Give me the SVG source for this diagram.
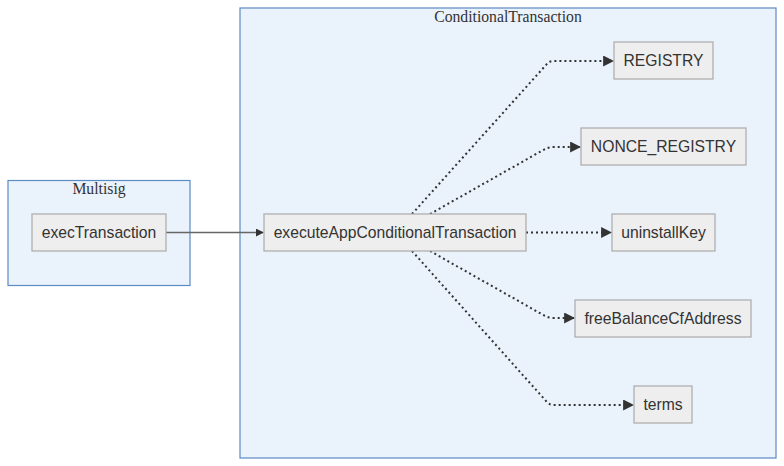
<svg xmlns="http://www.w3.org/2000/svg" width="784" height="466" viewBox="0 0 784 466">
<defs>
<marker id="arr" viewBox="0 0 10 10" refX="9" refY="5" markerWidth="11" markerHeight="11" markerUnits="userSpaceOnUse" orient="auto">
<path d="M0,0 L10,5 L0,10 z" fill="#333"/>
</marker>
<marker id="arrs" viewBox="0 0 10 10" refX="9" refY="5" markerWidth="8" markerHeight="8" markerUnits="userSpaceOnUse" orient="auto">
<path d="M0,0 L10,5 L0,10 z" fill="#333"/>
</marker>
</defs>
<style>
.cluster rect{fill:#eaf2fb;stroke:#5b8bc5;stroke-width:1.2}
.cluster text{font-family:"Liberation Serif",serif;font-size:15.7px;fill:#333;text-anchor:middle}
.node rect{fill:#eeeeee;stroke:#aaaaaa;stroke-width:1.2}
.node text{font-family:"Liberation Sans",Arial,sans-serif;font-size:15.7px;fill:#333;text-anchor:middle;dominant-baseline:central}
.edge{fill:none;stroke:#333;stroke-width:2}
.dot{stroke-dasharray:2 3}
.solid{stroke:#666;stroke-width:1.5}
</style>
<g id="cluster-multisig" class="cluster">
<rect x="8" y="180.5" width="182" height="105"/>
<text x="99" y="194">Multisig</text>
</g>
<g id="cluster-conditional" class="cluster">
<rect x="240" y="8" width="536" height="450"/>
<text x="508" y="22">ConditionalTransaction</text>
</g>
<g id="edges">
<path class="edge solid" d="M166,232.5 L263,232.5" marker-end="url(#arrs)"/>
<path class="edge dot" d="M412,214 L546,65 Q549,61 554,61 L613,61" marker-end="url(#arr)"/>
<path class="edge dot" d="M430,214 L545,149 Q549,147 554,147 L580,147" marker-end="url(#arr)"/>
<path class="edge dot" d="M526,232.5 L611,232.5" marker-end="url(#arr)"/>
<path class="edge dot" d="M430,251 L545,316 Q549,318 554,318 L574,318" marker-end="url(#arr)"/>
<path class="edge dot" d="M412,251 L546,401 Q549,405 554,405 L633,405" marker-end="url(#arr)"/>
</g>
<g id="node-execTransaction" class="node">
<rect x="32" y="214" width="134" height="37"/>
<text x="99" y="232.5">execTransaction</text>
</g>
<g id="node-executeAppConditionalTransaction" class="node">
<rect x="264" y="214" width="262" height="37"/>
<text x="395" y="232.5">executeAppConditionalTransaction</text>
</g>
<g id="node-REGISTRY" class="node">
<rect x="614" y="42" width="99" height="37"/>
<text x="663.5" y="60.5">REGISTRY</text>
</g>
<g id="node-NONCE_REGISTRY" class="node">
<rect x="581" y="128" width="165" height="37"/>
<text x="663.5" y="146.5">NONCE_REGISTRY</text>
</g>
<g id="node-uninstallKey" class="node">
<rect x="612" y="214" width="103" height="37"/>
<text x="663.5" y="232.5">uninstallKey</text>
</g>
<g id="node-freeBalanceCfAddress" class="node">
<rect x="575" y="300" width="176" height="37"/>
<text x="663" y="318.5">freeBalanceCfAddress</text>
</g>
<g id="node-terms" class="node">
<rect x="634" y="386" width="58" height="37"/>
<text x="663" y="404.5">terms</text>
</g>
</svg>
